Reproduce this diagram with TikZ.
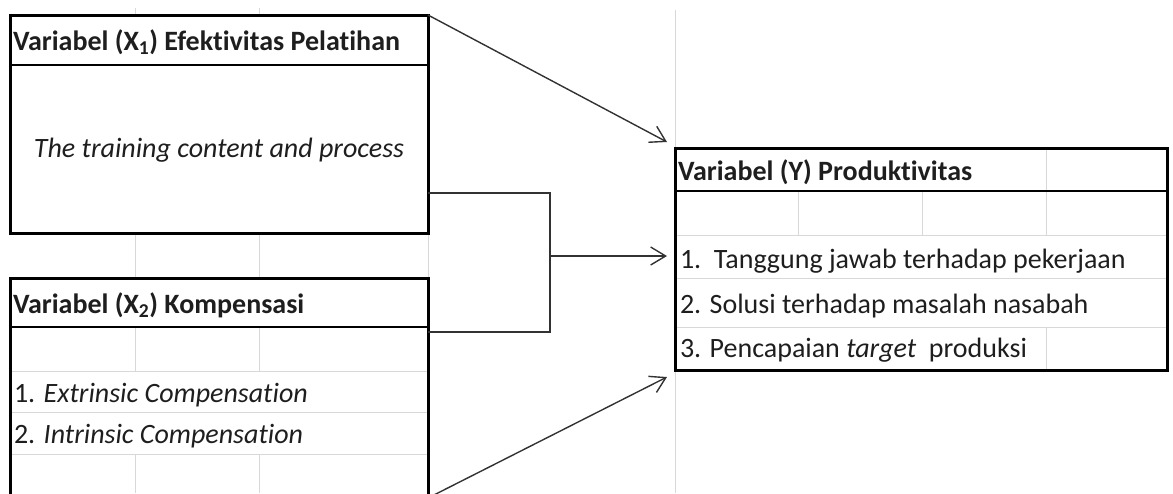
\documentclass[tikz,border=0pt]{standalone}
\usepackage{fontspec}
\setmainfont{Carlito}[Ligatures={NoCommon}]
\usepackage{xcolor}
\usepackage{tikz}
\usetikzlibrary{arrows.meta,calc}
\definecolor{grid1} {RGB} {216, 216, 216}
\definecolor{ink1} {RGB} {30, 30, 30}
\definecolor{line1} {RGB} {50, 50, 50}
\tikzstyle{sheet}=[
  x=1pt, y=-1pt, >={Straight Barb[length=15pt,width=18pt]},
  font=\fontsize{28}{34}\selectfont,
  every node/.style={inner sep=0pt, outer sep=0pt, text=ink1}
]
\tikzstyle{varbox}=[
  draw=black, line width=3pt, anchor=north west
]
\tikzstyle{headrule}=[
  line width=1.6pt
]
\tikzstyle{gridln}=[
  draw=grid1, line width=1pt
]
\tikzstyle{link}=[
  draw=line1, line width=1.4pt
]
\tikzstyle{celltext}=[
  anchor=base west
]

\begin{document}
\begin{tikzpicture}[sheet]
    \useasboundingbox (0,0) rectangle (1173,493);
    \clip (0,0) rectangle (1173,493);

    % sheet grid
    \foreach \gx in {135,259}
        \draw[gridln] (\gx,8) -- (\gx,15) (\gx,233) -- (\gx,278)
                      (\gx,327) -- (\gx,371) (\gx,454) -- (\gx,493);
    \draw[gridln] (428,233) -- (428,278);
    \draw[gridln] (675,10) -- (675,148) (675,370) -- (675,493);
    \foreach \gy in {371,412,454}
        \draw[gridln] (10,\gy) -- (428,\gy);
    \foreach \gy in {235,278,327}
        \draw[gridln] (675,\gy) -- (1167,\gy);
    \foreach \gx in {798,922}
        \draw[gridln] (\gx,191) -- (\gx,235);
    \draw[gridln] (1046,148) -- (1046,235) (1046,327) -- (1046,370);

    % variable boxes
    \node (xone) [varbox, minimum width=418pt, minimum height=218pt] at (10,15) {};
    \node (xtwo) [varbox, minimum width=418pt, minimum height=220pt]
        at ($(xone.south west) + (0,45)$) {};
    \node (yvar) [varbox, minimum width=492pt, minimum height=222pt] at (675,148) {};

    \draw[headrule] ($(xone.north west) + (0,50)$) -- ($(xone.north east) + (0,50)$);
    \draw[headrule] ($(xtwo.north west) + (0,49)$) -- ($(xtwo.north east) + (0,49)$);
    \draw[headrule] ($(yvar.north west) + (0,43)$) -- ($(yvar.north east) + (0,43)$);

    % texts
    \node (xonehead) [celltext] at ($(xone.north west) + (3,35)$)
        {\textbf{Variabel (X\textsubscript{1}) Efektivitas Pelatihan}};
    \node (xonebody) [anchor=base] at ($(xone.north) + (0,142)$)
        {\textit{The training content and process}};
    \node (xtwohead) [celltext] at ($(xtwo.north west) + (3,35)$)
        {\textbf{Variabel (X\textsubscript{2}) Kompensasi}};
    \node (xtwoa) [celltext] at ($(xtwo.north west) + (4,124)$)
        {1. \textit{Extrinsic Compensation}};
    \node (xtwob) [celltext] at ($(xtwo.north west) + (4,165)$)
        {2. \textit{Intrinsic Compensation}};
    \node (yhead) [celltext] at ($(yvar.north west) + (3,32)$)
        {\textbf{Variabel (Y) Produktivitas}};
    \node (ya) [celltext] at ($(yvar.north west) + (5,120)$)
        {1.\ \ Tanggung jawab terhadap pekerjaan};
    \node (yb) [celltext] at ($(yvar.north west) + (5,165)$)
        {2. Solusi terhadap masalah nasabah};
    \node (yc) [celltext] at ($(yvar.north west) + (5,209)$)
        {3. Pencapaian \textit{target}\ \ produksi};

    % connectors
    \coordinate (tipa) at ($(yvar.north west) + (-8,-6)$);
    \coordinate (tipb) at ($(yvar.north west) + (-8,108)$);
    \coordinate (tipc) at ($(yvar.south west) + (-8,7)$);
    \coordinate (joina) at ($(xone.north east) + (0,178)$);
    \coordinate (joinb) at ($(xtwo.north east) + (0,54)$);
    \coordinate (fork) at ($(joina) + (122,63)$);

    \draw[link, ->] (xone.north east) -- (tipa);
    \draw[link] (joina) -- ++(122,0) |- (joinb);
    \draw[link, ->] (fork) -- (tipb);
    \draw[link, ->] (xtwo.south east) -- (tipc);
\end{tikzpicture}
\end{document}
